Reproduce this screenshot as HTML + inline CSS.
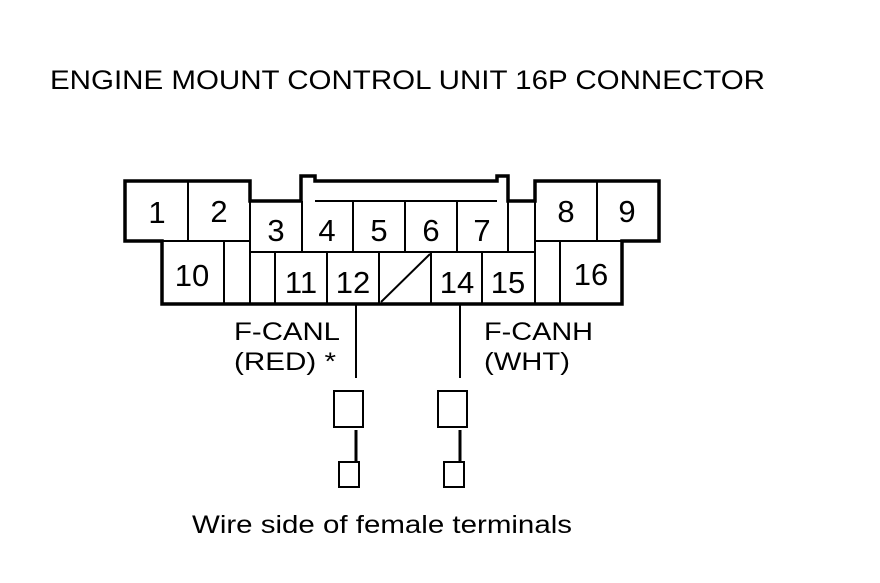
<!DOCTYPE html>
<html><head><style>body{margin:0;background:#fff}</style></head><body>
<svg width="880" height="578" xmlns="http://www.w3.org/2000/svg" font-family="Liberation Sans, sans-serif">
<rect width="880" height="578" fill="#fff"/>
<text x="50" y="89" font-size="27" fill="#000" textLength="715" lengthAdjust="spacingAndGlyphs">ENGINE MOUNT CONTROL UNIT 16P CONNECTOR</text>
<g fill="none" stroke="#000">
<path stroke-width="3.5" d="M125 181 H250 V201 H301 V176 H315 V181 H497 V176 H508 V201 H535 V181 H659 V241 H622 V304 H162 V241 H125 Z"/>
<g stroke-width="2">
<line x1="315" y1="201" x2="497" y2="201"/>
<line x1="188" y1="181" x2="188" y2="241"/>
<line x1="597" y1="181" x2="597" y2="241"/>
<line x1="162" y1="241" x2="250" y2="241"/>
<line x1="535" y1="241" x2="622" y2="241"/>
<line x1="250" y1="201" x2="250" y2="304"/>
<line x1="224" y1="241" x2="224" y2="304"/>
<line x1="535" y1="201" x2="535" y2="304"/>
<line x1="560" y1="241" x2="560" y2="304"/>
<line x1="250" y1="252" x2="535" y2="252"/>
<line x1="302" y1="201" x2="302" y2="252"/>
<line x1="353" y1="201" x2="353" y2="252"/>
<line x1="405" y1="201" x2="405" y2="252"/>
<line x1="457" y1="201" x2="457" y2="252"/>
<line x1="508" y1="201" x2="508" y2="252"/>
<line x1="275" y1="252" x2="275" y2="304"/>
<line x1="327" y1="252" x2="327" y2="304"/>
<line x1="379" y1="252" x2="379" y2="304"/>
<line x1="431" y1="252" x2="431" y2="304"/>
<line x1="482" y1="252" x2="482" y2="304"/>
<line x1="381" y1="302" x2="430" y2="254"/>
<line x1="356" y1="304" x2="356" y2="378"/>
<line x1="460" y1="304" x2="460" y2="378"/>
<rect x="334" y="391" width="29" height="36"/>
<rect x="438" y="391" width="29" height="36"/>
<rect x="339" y="462" width="20" height="25"/>
<rect x="444" y="462" width="20" height="25"/>
</g>
<line stroke-width="3" x1="356" y1="430" x2="356" y2="462"/>
<line stroke-width="3" x1="460" y1="430" x2="460" y2="462"/>
</g>
<g font-size="31" fill="#000" text-anchor="middle">
<text x="157" y="223">1</text><text x="219" y="222">2</text>
<text x="276" y="241">3</text><text x="327" y="241">4</text><text x="379" y="241">5</text>
<text x="431" y="241">6</text><text x="482" y="241">7</text>
<text x="566" y="222">8</text><text x="627" y="222">9</text>
<text x="192" y="286">10</text><text x="301" y="293">11</text><text x="353" y="293">12</text>
<text x="457" y="293">14</text><text x="508" y="293">15</text><text x="591" y="285">16</text>
</g>
<g font-size="25" fill="#000">
<text x="234" y="340" textLength="106" lengthAdjust="spacingAndGlyphs">F-CANL</text>
<text x="234" y="370" textLength="102" lengthAdjust="spacingAndGlyphs">(RED) *</text>
<text x="484" y="340" textLength="109" lengthAdjust="spacingAndGlyphs">F-CANH</text>
<text x="484" y="370" textLength="86" lengthAdjust="spacingAndGlyphs">(WHT)</text>
<text x="192" y="533" font-size="25" textLength="380" lengthAdjust="spacingAndGlyphs">Wire side of female terminals</text>
</g>
</svg>
</body></html>
